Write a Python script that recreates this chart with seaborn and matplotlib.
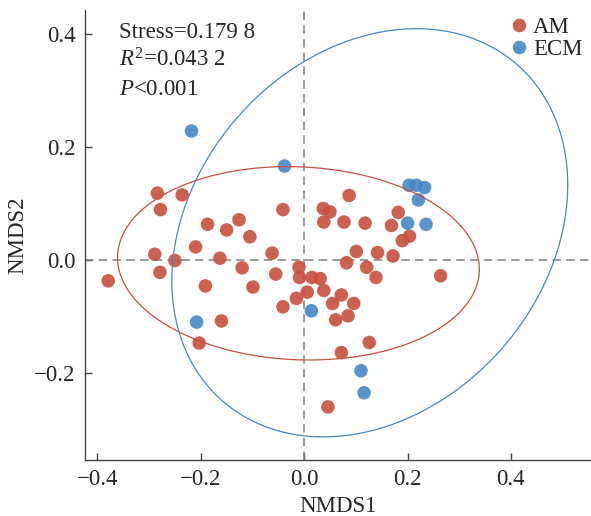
import numpy as np
import pandas as pd
import seaborn as sns
import matplotlib.pyplot as plt

# NMDS scores
am_x = [-0.284, -0.236, -0.278, -0.041, 0.037, 0.050, 0.038, -0.187, -0.126, -0.150,
        -0.105, -0.210, -0.289, -0.062, -0.250, -0.163, -0.279, -0.120, -0.379, -0.010,
        -0.055, -0.009, 0.015, 0.031, -0.191, -0.099, 0.006, 0.038, -0.015, 0.055,
        -0.041, 0.061, -0.160, -0.203, 0.072, 0.096, 0.085, 0.126, 0.072, 0.046,
        0.087, 0.077, 0.118, 0.182, 0.169, 0.204, 0.190, 0.101, 0.142, 0.172,
        0.082, 0.121, 0.139, 0.264]
am_y = [0.118, 0.115, 0.089, 0.089, 0.091, 0.085, 0.067, 0.063, 0.071, 0.053,
        0.041, 0.023, 0.010, 0.012, -0.001, 0.003, -0.022, -0.014, -0.037, -0.013,
        -0.025, -0.031, -0.031, -0.033, -0.046, -0.048, -0.057, -0.054, -0.068, -0.077,
        -0.083, -0.106, -0.108, -0.147, -0.062, -0.077, -0.099, -0.146, -0.164, -0.260,
        0.114, 0.067, 0.065, 0.084, 0.061, 0.042, 0.034, 0.015, 0.013, 0.007,
        -0.005, -0.013, -0.031, -0.028]
ecm_x = [-0.218, -0.038, 0.203, 0.217, 0.233, 0.221, 0.200, 0.236, 0.014, -0.208, 0.110, 0.116]
ecm_y = [0.228, 0.166, 0.132, 0.132, 0.128, 0.106, 0.065, 0.063, -0.090, -0.110, -0.196, -0.235]

# ellipses: centre x, centre y, half-extent x, half-extent y, correlation
am_ellipse = [-0.011, -0.006, 0.350, 0.171, -0.06]
ecm_ellipse = [0.127, 0.048, 0.383, 0.361, 0.235]

stats_lines = ["Stress=0.179 8", "$R^{2}$=0.043 2", "$P$<0.001"]
x_ticks = [-0.4, -0.2, 0.0, 0.2, 0.4]
y_ticks = [-0.2, 0.0, 0.2, 0.4]

red = "#C8503E"
blue = "#4787C6"

df = pd.DataFrame({
    "NMDS1": am_x + ecm_x,
    "NMDS2": am_y + ecm_y,
    "group": ["AM"] * len(am_x) + ["ECM"] * len(ecm_x),
})

sns.set_theme(style="ticks")
plt.rcParams["font.family"] = ["Liberation Serif", "DejaVu Serif"]
plt.rcParams["mathtext.fontset"] = "custom"
plt.rcParams["mathtext.rm"] = "Liberation Serif"
plt.rcParams["mathtext.it"] = "Liberation Serif:italic"

fs = 16.5
fig = plt.figure(figsize=(5.91, 5.16), dpi=100)
ax = fig.add_axes([85 / 591, 1 - 459.5 / 516, 1 - 85 / 591, 449.5 / 516])


def ellipse_xy(p):
    t = np.linspace(0, 2 * np.pi, 300)
    cx, cy, sx, sy, r = p
    ex = cx + sx * np.cos(t)
    ey = cy + sy * (r * np.cos(t) + np.sqrt(1 - r ** 2) * np.sin(t))
    return ex, ey


ax.axhline(0, color="#808080", lw=1.1, ls=(0, (5.5, 3.5)), zorder=1)
ax.axvline(0, color="#808080", lw=1.1, ls=(0, (5.5, 3.5)), zorder=1)

sns.scatterplot(data=df, x="NMDS1", y="NMDS2", hue="group",
                palette={"AM": red, "ECM": blue}, s=95, alpha=0.9,
                edgecolor="none", ax=ax, zorder=3)

for p, c in [(am_ellipse, red), (ecm_ellipse, blue)]:
    ex, ey = ellipse_xy(p)
    ax.plot(ex, ey, color=c, lw=0.9, zorder=4)

ax.set_xlim(-0.424, 0.555)
ax.set_ylim(-0.353, 0.442)
ax.set_xticks(x_ticks)
ax.set_yticks(y_ticks)
fmt = plt.FuncFormatter(lambda v, pos: f"{v:.1f}".replace("-", "\u2212"))
ax.xaxis.set_major_formatter(fmt)
ax.yaxis.set_major_formatter(fmt)
ax.tick_params(direction="in", length=5, width=1, color="#444444",
               labelsize=fs, pad=7)
for side in ["top", "right"]:
    ax.spines[side].set_visible(False)
for side in ["left", "bottom"]:
    ax.spines[side].set_color("#444444")
    ax.spines[side].set_linewidth(1.0)

ax.set_xlabel("NMDS1", fontsize=fs, labelpad=4)
ax.set_ylabel("NMDS2", fontsize=fs, labelpad=4)

for i, line in enumerate(stats_lines):
    ax.text(0.068, 0.937 - i * 0.063, line, transform=ax.transAxes,
            fontsize=fs, va="baseline", ha="left")

sns.move_legend(ax, "upper right", bbox_to_anchor=(1.006, 1.011), frameon=False,
                title=None, fontsize=fs, handlelength=0.6, handletextpad=0.3,
                labelspacing=0.05, borderaxespad=0.1, markerscale=1.0)

fig.savefig("out.png", dpi=100)
